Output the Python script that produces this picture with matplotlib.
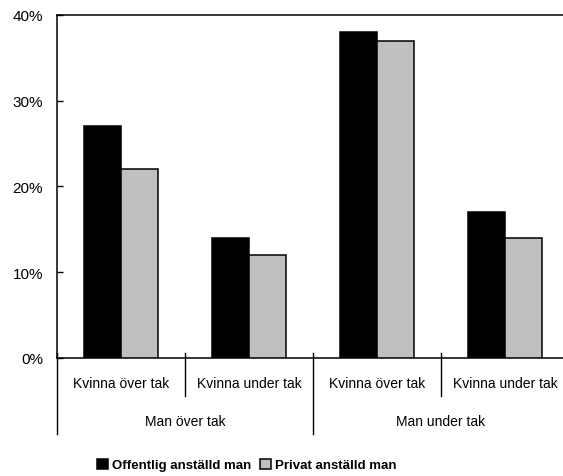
import matplotlib
matplotlib.use("Agg")
import matplotlib.pyplot as plt
import matplotlib.ticker as mticker
from matplotlib.patches import Patch
import numpy as np

plt.rcParams['font.family'] = ['Liberation Sans Narrow', 'Liberation Sans', 'DejaVu Sans']

sub_labels = ["Kvinna över tak", "Kvinna under tak", "Kvinna över tak", "Kvinna under tak"]
group_labels = ["Man över tak", "Man under tak"]
series_names = ["Offentlig anställd man", "Privat anställd man"]
offentlig = [27, 14, 38, 17]
privat = [22, 12, 37, 14]
colors = ["#000000", "#c0c0c0"]
yticks = [0, 10, 20, 30, 40]

size = 10
fig = plt.figure(figsize=(5.63, 4.77), dpi=100)
ax = fig.add_axes([57 / 563, 1 - 359 / 477, 512 / 563, 343 / 477])

x = np.arange(len(sub_labels))
w = 0.29
ax.bar(x - w / 2, offentlig, w, color=colors[0], edgecolor="black", linewidth=1.1, zorder=3)
ax.bar(x + w / 2, privat, w, color=colors[1], edgecolor="black", linewidth=1.1, zorder=3)

ax.set_xlim(-0.5, len(sub_labels) - 0.5)
ax.set_ylim(0, 40)
ax.set_yticks(yticks)
ax.yaxis.set_major_formatter(mticker.FuncFormatter(lambda v, p: "%d%%" % v))
ax.tick_params(axis='y', direction='in', length=4, width=1, labelsize=11, pad=10)
ax.set_xticks([])
for s in ["left", "top", "bottom"]:
    ax.spines[s].set_linewidth(1.1)
ax.spines["right"].set_visible(False)

# hierarchical x axis
tr = ax.get_xaxis_transform()
px = 1 / 343
for i, lab in enumerate(sub_labels):
    ax.text(i, -25 * px, lab, transform=tr, ha="center", va="center", fontsize=size)
for b in [0.5, 2.5]:
    ax.plot([b, b], [5 * px, -38 * px], transform=tr, color="black", lw=1, clip_on=False)
for b in [-0.5, 1.5, 3.5]:
    ax.plot([b, b], [5 * px, -76 * px], transform=tr, color="black", lw=1, clip_on=False)
for j, lab in enumerate(group_labels):
    ax.text(2 * j + 0.5, -63 * px, lab, transform=tr, ha="center", va="center", fontsize=size)

handles = [Patch(facecolor=c, edgecolor="black", linewidth=1.1) for c in colors]
fig.legend(handles, series_names, loc="center left", bbox_to_anchor=(97 / 563, 1 - 466 / 477),
           ncol=2, frameon=False, prop={"weight": "bold", "size": 9.5},
           borderpad=0, borderaxespad=0,
           handlelength=0.8, handleheight=0.8, handletextpad=0.3, columnspacing=0.7)

fig.savefig("out.png", dpi=100)
